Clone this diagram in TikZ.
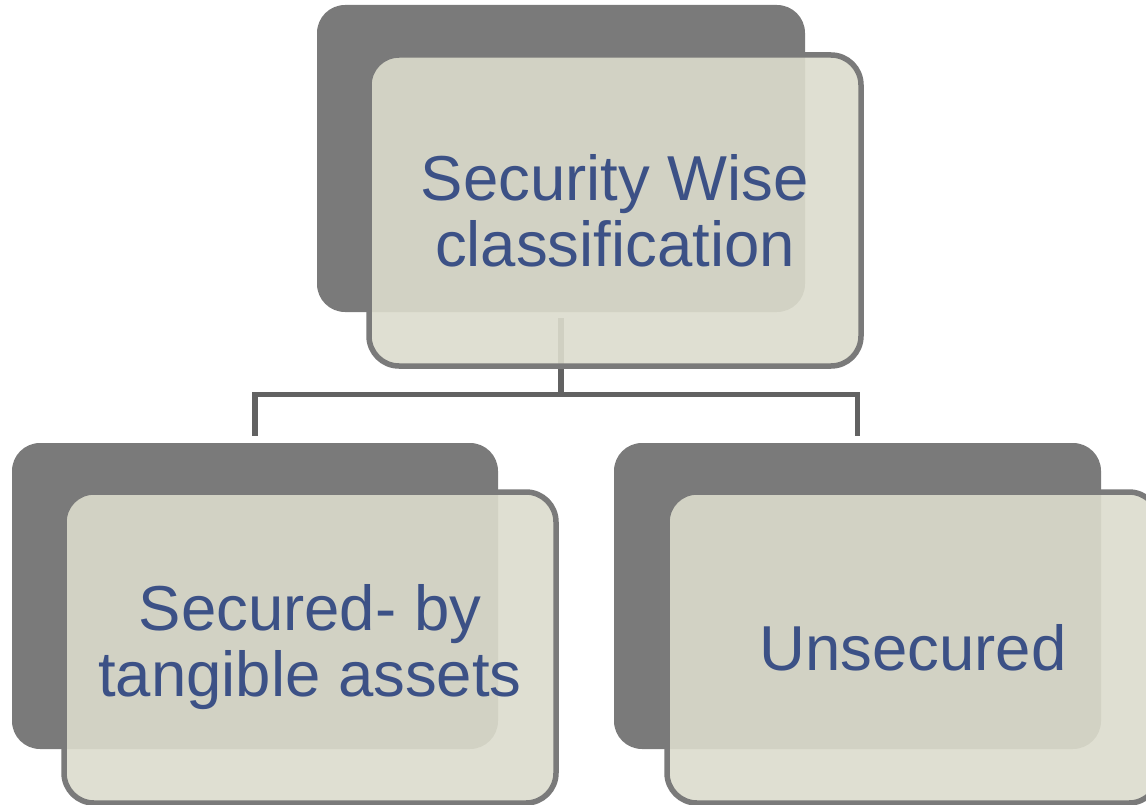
\documentclass[tikz,border=0pt]{standalone}
\usepackage{fontspec}
\setmainfont{Liberation Sans}
\definecolor{backgray}{RGB}{122,122,122}
\definecolor{frontfill}{RGB}{220,220,205}
\definecolor{frontline}{RGB}{122,122,122}
\definecolor{connline}{RGB}{98,98,98}
\definecolor{txtblue}{RGB}{60,81,134}
\begin{document}
\begin{tikzpicture}[x=1pt,y=-1pt,
  backbox/.style={draw=none,fill=backgray,rounded corners=28pt,inner sep=0pt},
  frontbox/.style={draw=frontline,line width=5.5pt,fill=frontfill,fill opacity=0.9,draw opacity=1,text opacity=1,
    rounded corners=30pt,inner sep=0pt,minimum width=492pt,minimum height=311pt,
    text=txtblue,align=center,font=\fontsize{63.5}{66}\selectfont},
  conn/.style={draw=connline,line width=5.5pt}]
\useasboundingbox (0,0) rectangle (1146,805);
% back boxes
\node[backbox,minimum width=488pt,minimum height=307pt] (topback) at (561,158.5) {};
\node[backbox,minimum width=486pt,minimum height=306pt] (blback) at (255,596) {};
\node[backbox,minimum width=487pt,minimum height=306pt] (brback) at (857.5,596) {};
% connectors
\coordinate (bus) at (561,394.5);
\draw[conn] ([yshift=-6pt]topback.south) -- (bus);
\draw[conn] ([yshift=7pt]blback.north) |- (bus) -| ([yshift=7pt]brback.north);
% front boxes
\node[frontbox] (top) at (615,210.5) {Security Wise\\classification};
\node[frontbox] (bl) at (310,647.5) {Secured- by\\tangible assets};
\node[frontbox] (br) at (913,647.5) {Unsecured};
\end{tikzpicture}
\end{document}
